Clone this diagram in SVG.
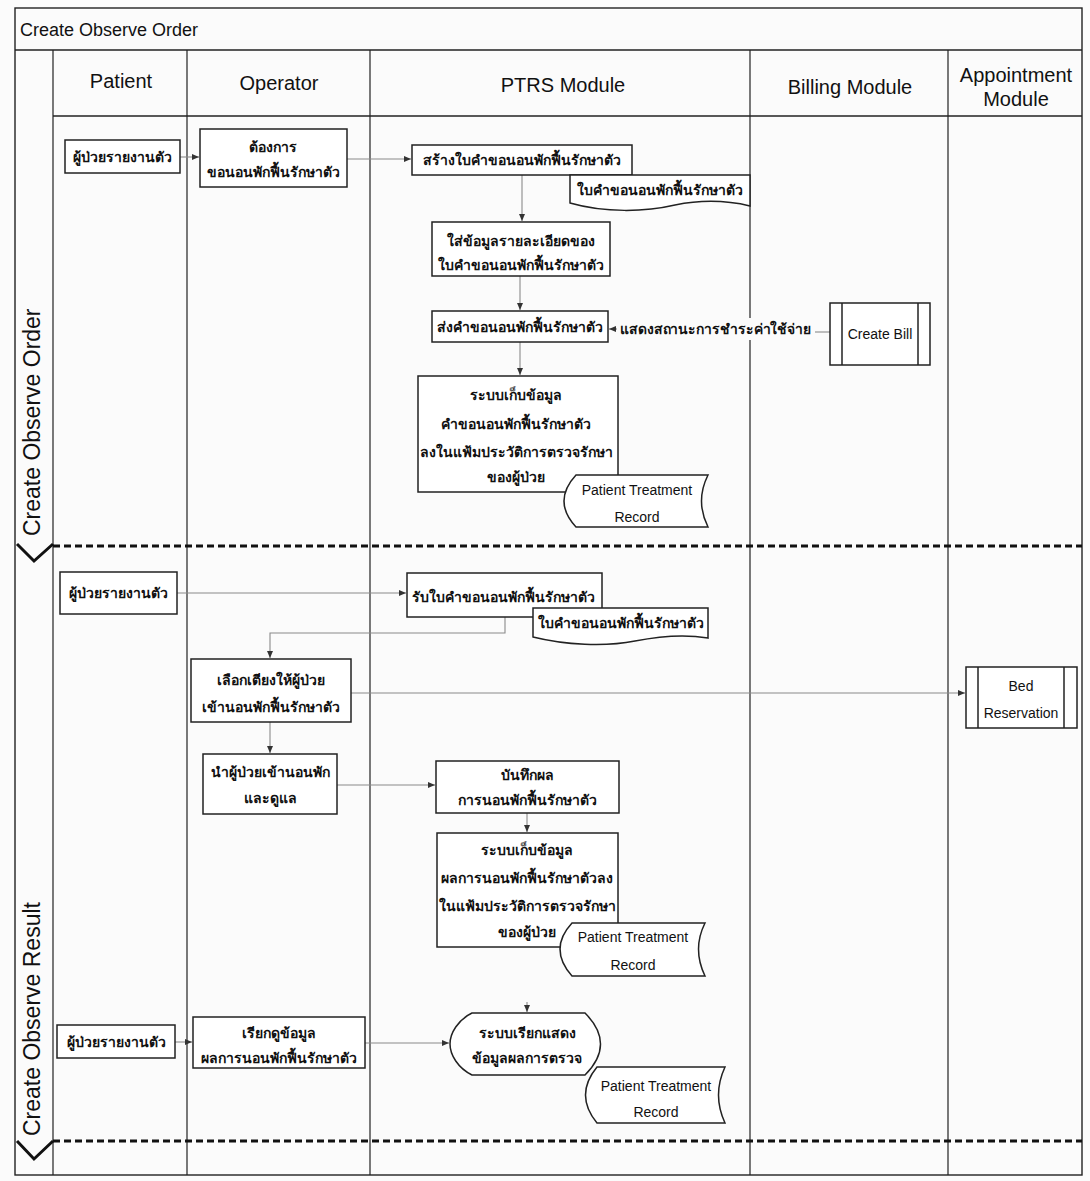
<svg xmlns="http://www.w3.org/2000/svg" width="1090" height="1181" viewBox="0 0 1090 1181">
  <style>
    .frame { fill: none; stroke: #222; stroke-width: 1.4; }
    .lane { fill: none; stroke: #222; stroke-width: 1.2; }
    .divider { fill: none; stroke: #111; stroke-width: 3; stroke-dasharray: 7 4; }
    .chevron { fill: none; stroke: #111; stroke-width: 3; }
    .box { fill: #fff; stroke: #222; stroke-width: 1.5; }
    .conn { fill: none; stroke: #8a8a8a; stroke-width: 1.1; }
    .title { font-family: "Liberation Sans", Arial, sans-serif; font-size: 18px; fill: #111; }
    .head { font-family: "Liberation Sans", Arial, sans-serif; font-size: 20px; fill: #111; text-anchor: middle; }
    .side { font-family: "Liberation Sans", Arial, sans-serif; font-size: 23px; fill: #111; }
    .th { font-family: "Liberation Sans", "DejaVu Sans", sans-serif; font-size: 14px; font-weight: bold; fill: #111; text-anchor: middle; }
    .en { font-family: "Liberation Sans", Arial, sans-serif; font-size: 14px; fill: #111; text-anchor: middle; }
  </style>
  <defs>
    <marker id="arrow" markerWidth="8" markerHeight="8" refX="7" refY="4" orient="auto" markerUnits="userSpaceOnUse">
      <path d="M0,1 L7,4 L0,7 Z" fill="#333"/>
    </marker>
  </defs>

  <rect x="0" y="0" width="1090" height="1181" fill="#fbfbfb"/>

  <!-- pool frame, title bar and header row -->
  <g id="pool">
    <rect class="frame" x="15" y="8" width="1067" height="1167"/>
    <line class="frame" x1="15" y1="50" x2="1082" y2="50"/>
    <line class="frame" x1="53" y1="116" x2="1082" y2="116"/>
    <text class="title" x="20" y="36">Create Observe Order</text>
  </g>

  <!-- swimlane columns -->
  <g id="lanes">
    <line class="lane" x1="53" y1="50" x2="53" y2="1175"/>
    <line class="lane" x1="187" y1="50" x2="187" y2="1175"/>
    <line class="lane" x1="370" y1="50" x2="370" y2="1175"/>
    <line class="lane" x1="750" y1="50" x2="750" y2="1175"/>
    <line class="lane" x1="948" y1="50" x2="948" y2="1175"/>
    <text class="head" x="121" y="88">Patient</text>
    <text class="head" x="279" y="90">Operator</text>
    <text class="head" x="563" y="92">PTRS Module</text>
    <text class="head" x="850" y="94">Billing Module</text>
    <text class="head" x="1016" y="82">Appointment</text>
    <text class="head" x="1016" y="106">Module</text>
  </g>

  <!-- phase separators with side labels -->
  <g id="phases">
    <line class="divider" x1="53" y1="546" x2="1082" y2="546"/>
    <line class="divider" x1="53" y1="1141" x2="1082" y2="1141"/>
    <polyline class="chevron" points="17,544 34,561 53,544"/>
    <polyline class="chevron" points="17,1141 34,1159 53,1141"/>
    <text class="side" transform="translate(40,536) rotate(-90)">Create Observe Order</text>
    <text class="side" transform="translate(40,1136) rotate(-90)">Create Observe Result</text>
  </g>

  <!-- connectors -->
  <g id="connectors">
    <path class="conn" d="M180,157 H199" marker-end="url(#arrow)"/>
    <path class="conn" d="M347,159 H411" marker-end="url(#arrow)"/>
    <path class="conn" d="M522,175 V221" marker-end="url(#arrow)"/>
    <path class="conn" d="M520,276 V310" marker-end="url(#arrow)"/>
    <path class="conn" d="M830,332 H815"/>
    <path class="conn" d="M617,329 H609" marker-end="url(#arrow)"/>
    <path class="conn" d="M520,342 V375" marker-end="url(#arrow)"/>
    <path class="conn" d="M177,593 H406" marker-end="url(#arrow)"/>
    <path class="conn" d="M505,617 V633 H270 V658" marker-end="url(#arrow)"/>
    <path class="conn" d="M351,693 H965" marker-end="url(#arrow)"/>
    <path class="conn" d="M270,722 V753" marker-end="url(#arrow)"/>
    <path class="conn" d="M337,785 H435" marker-end="url(#arrow)"/>
    <path class="conn" d="M527,813 V832" marker-end="url(#arrow)"/>
    <path class="conn" d="M175,1042 H192" marker-end="url(#arrow)"/>
    <path class="conn" d="M365,1043 H449" marker-end="url(#arrow)"/>
    <path class="conn" d="M527,1002 V1012" marker-end="url(#arrow)"/>
  </g>

  <!-- Create Observe Order phase -->
  <g id="patient-report-1">
    <rect class="box" x="65" y="140" width="115" height="33"/>
    <text class="th" x="122" y="162">ผู้ป่วยรายงานตัว</text>
  </g>
  <g id="request-observe">
    <rect class="box" x="200" y="129" width="147" height="58"/>
    <text class="th" x="273" y="152">ต้องการ</text>
    <text class="th" x="273" y="177">ขอนอนพักฟื้นรักษาตัว</text>
  </g>
  <g id="create-request-form">
    <rect class="box" x="412" y="145" width="220" height="30"/>
    <text class="th" x="522" y="165">สร้างใบคำขอนอนพักฟื้นรักษาตัว</text>
  </g>
  <g id="request-form-doc-1">
    <path class="box" d="M570,175 H750 V206 C725,200 700,200 675,205 C645,212 605,213 570,203 Z"/>
    <text class="th" x="660" y="195">ใบคำขอนอนพักฟื้นรักษาตัว</text>
  </g>
  <g id="fill-request-details">
    <rect class="box" x="432" y="222" width="178" height="54"/>
    <text class="th" x="521" y="246">ใส่ข้อมูลรายละเอียดของ</text>
    <text class="th" x="521" y="270">ใบคำขอนอนพักฟื้นรักษาตัว</text>
  </g>
  <g id="send-request">
    <rect class="box" x="432" y="311" width="176" height="31"/>
    <text class="th" x="520" y="332">ส่งคำขอนอนพักฟื้นรักษาตัว</text>
  </g>
  <g id="payment-status-label">
    <rect x="618" y="318" width="195" height="22" fill="#fbfbfb"/>
    <text class="th" x="620" y="334" style="text-anchor:start" textLength="191" lengthAdjust="spacingAndGlyphs">แสดงสถานะการชำระค่าใช้จ่าย</text>
  </g>
  <g id="create-bill">
    <rect class="box" x="830" y="303" width="100" height="62"/>
    <line class="box" x1="842" y1="303" x2="842" y2="365"/>
    <line class="box" x1="918" y1="303" x2="918" y2="365"/>
    <text class="en" x="880" y="339">Create Bill</text>
  </g>
  <g id="store-request">
    <rect class="box" x="418" y="376" width="200" height="116"/>
    <text class="th" x="516" y="400">ระบบเก็บข้อมูล</text>
    <text class="th" x="516" y="429">คำขอนอนพักฟื้นรักษาตัว</text>
    <text class="th" x="516" y="457">ลงในแฟ้มประวัติการตรวจรักษา</text>
    <text class="th" x="516" y="482">ของผู้ป่วย</text>
  </g>
  <g id="treatment-record-1">
    <path class="box" d="M576,475 H708 Q695,501 708,527 H576 Q552,501 576,475 Z"/>
    <text class="en" x="637" y="495">Patient Treatment</text>
    <text class="en" x="637" y="522">Record</text>
  </g>

  <!-- Create Observe Result phase -->
  <g id="patient-report-2">
    <rect class="box" x="60" y="572" width="117" height="42"/>
    <text class="th" x="118" y="598">ผู้ป่วยรายงานตัว</text>
  </g>
  <g id="receive-request-form">
    <rect class="box" x="407" y="573" width="195" height="44"/>
    <text class="th" x="503" y="602">รับใบคำขอนอนพักฟื้นรักษาตัว</text>
  </g>
  <g id="request-form-doc-2">
    <path class="box" d="M533,608 H708 V638 C685,634 660,636 635,641 C605,647 565,645 533,637 Z"/>
    <text class="th" x="621" y="628">ใบคำขอนอนพักฟื้นรักษาตัว</text>
  </g>
  <g id="choose-bed">
    <rect class="box" x="191" y="659" width="160" height="63"/>
    <text class="th" x="271" y="685">เลือกเตียงให้ผู้ป่วย</text>
    <text class="th" x="271" y="712">เข้านอนพักฟื้นรักษาตัว</text>
  </g>
  <g id="bed-reservation">
    <rect class="box" x="966" y="667" width="111" height="61"/>
    <line class="box" x1="978" y1="667" x2="978" y2="728"/>
    <line class="box" x1="1064" y1="667" x2="1064" y2="728"/>
    <text class="en" x="1021" y="691">Bed</text>
    <text class="en" x="1021" y="718">Reservation</text>
  </g>
  <g id="admit-patient">
    <rect class="box" x="203" y="754" width="134" height="60"/>
    <text class="th" x="270" y="777">นำผู้ป่วยเข้านอนพัก</text>
    <text class="th" x="270" y="803">และดูแล</text>
  </g>
  <g id="record-result">
    <rect class="box" x="436" y="761" width="183" height="52"/>
    <text class="th" x="527" y="780">บันทึกผล</text>
    <text class="th" x="527" y="805">การนอนพักฟื้นรักษาตัว</text>
  </g>
  <g id="store-result">
    <rect class="box" x="437" y="833" width="181" height="114"/>
    <text class="th" x="527" y="855">ระบบเก็บข้อมูล</text>
    <text class="th" x="527" y="883">ผลการนอนพักฟื้นรักษาตัวลง</text>
    <text class="th" x="527" y="911">ในแฟ้มประวัติการตรวจรักษา</text>
    <text class="th" x="527" y="937">ของผู้ป่วย</text>
  </g>
  <g id="treatment-record-2">
    <path class="box" d="M572,923 H705 Q692,949 705,976 H572 Q548,949 572,923 Z"/>
    <text class="en" x="633" y="942">Patient Treatment</text>
    <text class="en" x="633" y="970">Record</text>
  </g>
  <g id="patient-report-3">
    <rect class="box" x="57" y="1025" width="118" height="33"/>
    <text class="th" x="116" y="1047">ผู้ป่วยรายงานตัว</text>
  </g>
  <g id="view-result">
    <rect class="box" x="193" y="1017" width="172" height="51"/>
    <text class="th" x="279" y="1038">เรียกดูข้อมูล</text>
    <text class="th" x="279" y="1063">ผลการนอนพักฟื้นรักษาตัว</text>
  </g>
  <g id="display-result">
    <path class="box" d="M472,1013 H585 Q616,1044 585,1075 H472 C458,1068 450,1055 450,1044 C450,1033 458,1020 472,1013 Z"/>
    <text class="th" x="527" y="1038">ระบบเรียกแสดง</text>
    <text class="th" x="527" y="1063">ข้อมูลผลการตรวจ</text>
  </g>
  <g id="treatment-record-3">
    <path class="box" d="M597,1067 H725 Q712,1095 725,1123 H597 Q574,1095 597,1067 Z"/>
    <text class="en" x="656" y="1091">Patient Treatment</text>
    <text class="en" x="656" y="1117">Record</text>
  </g>
</svg>
